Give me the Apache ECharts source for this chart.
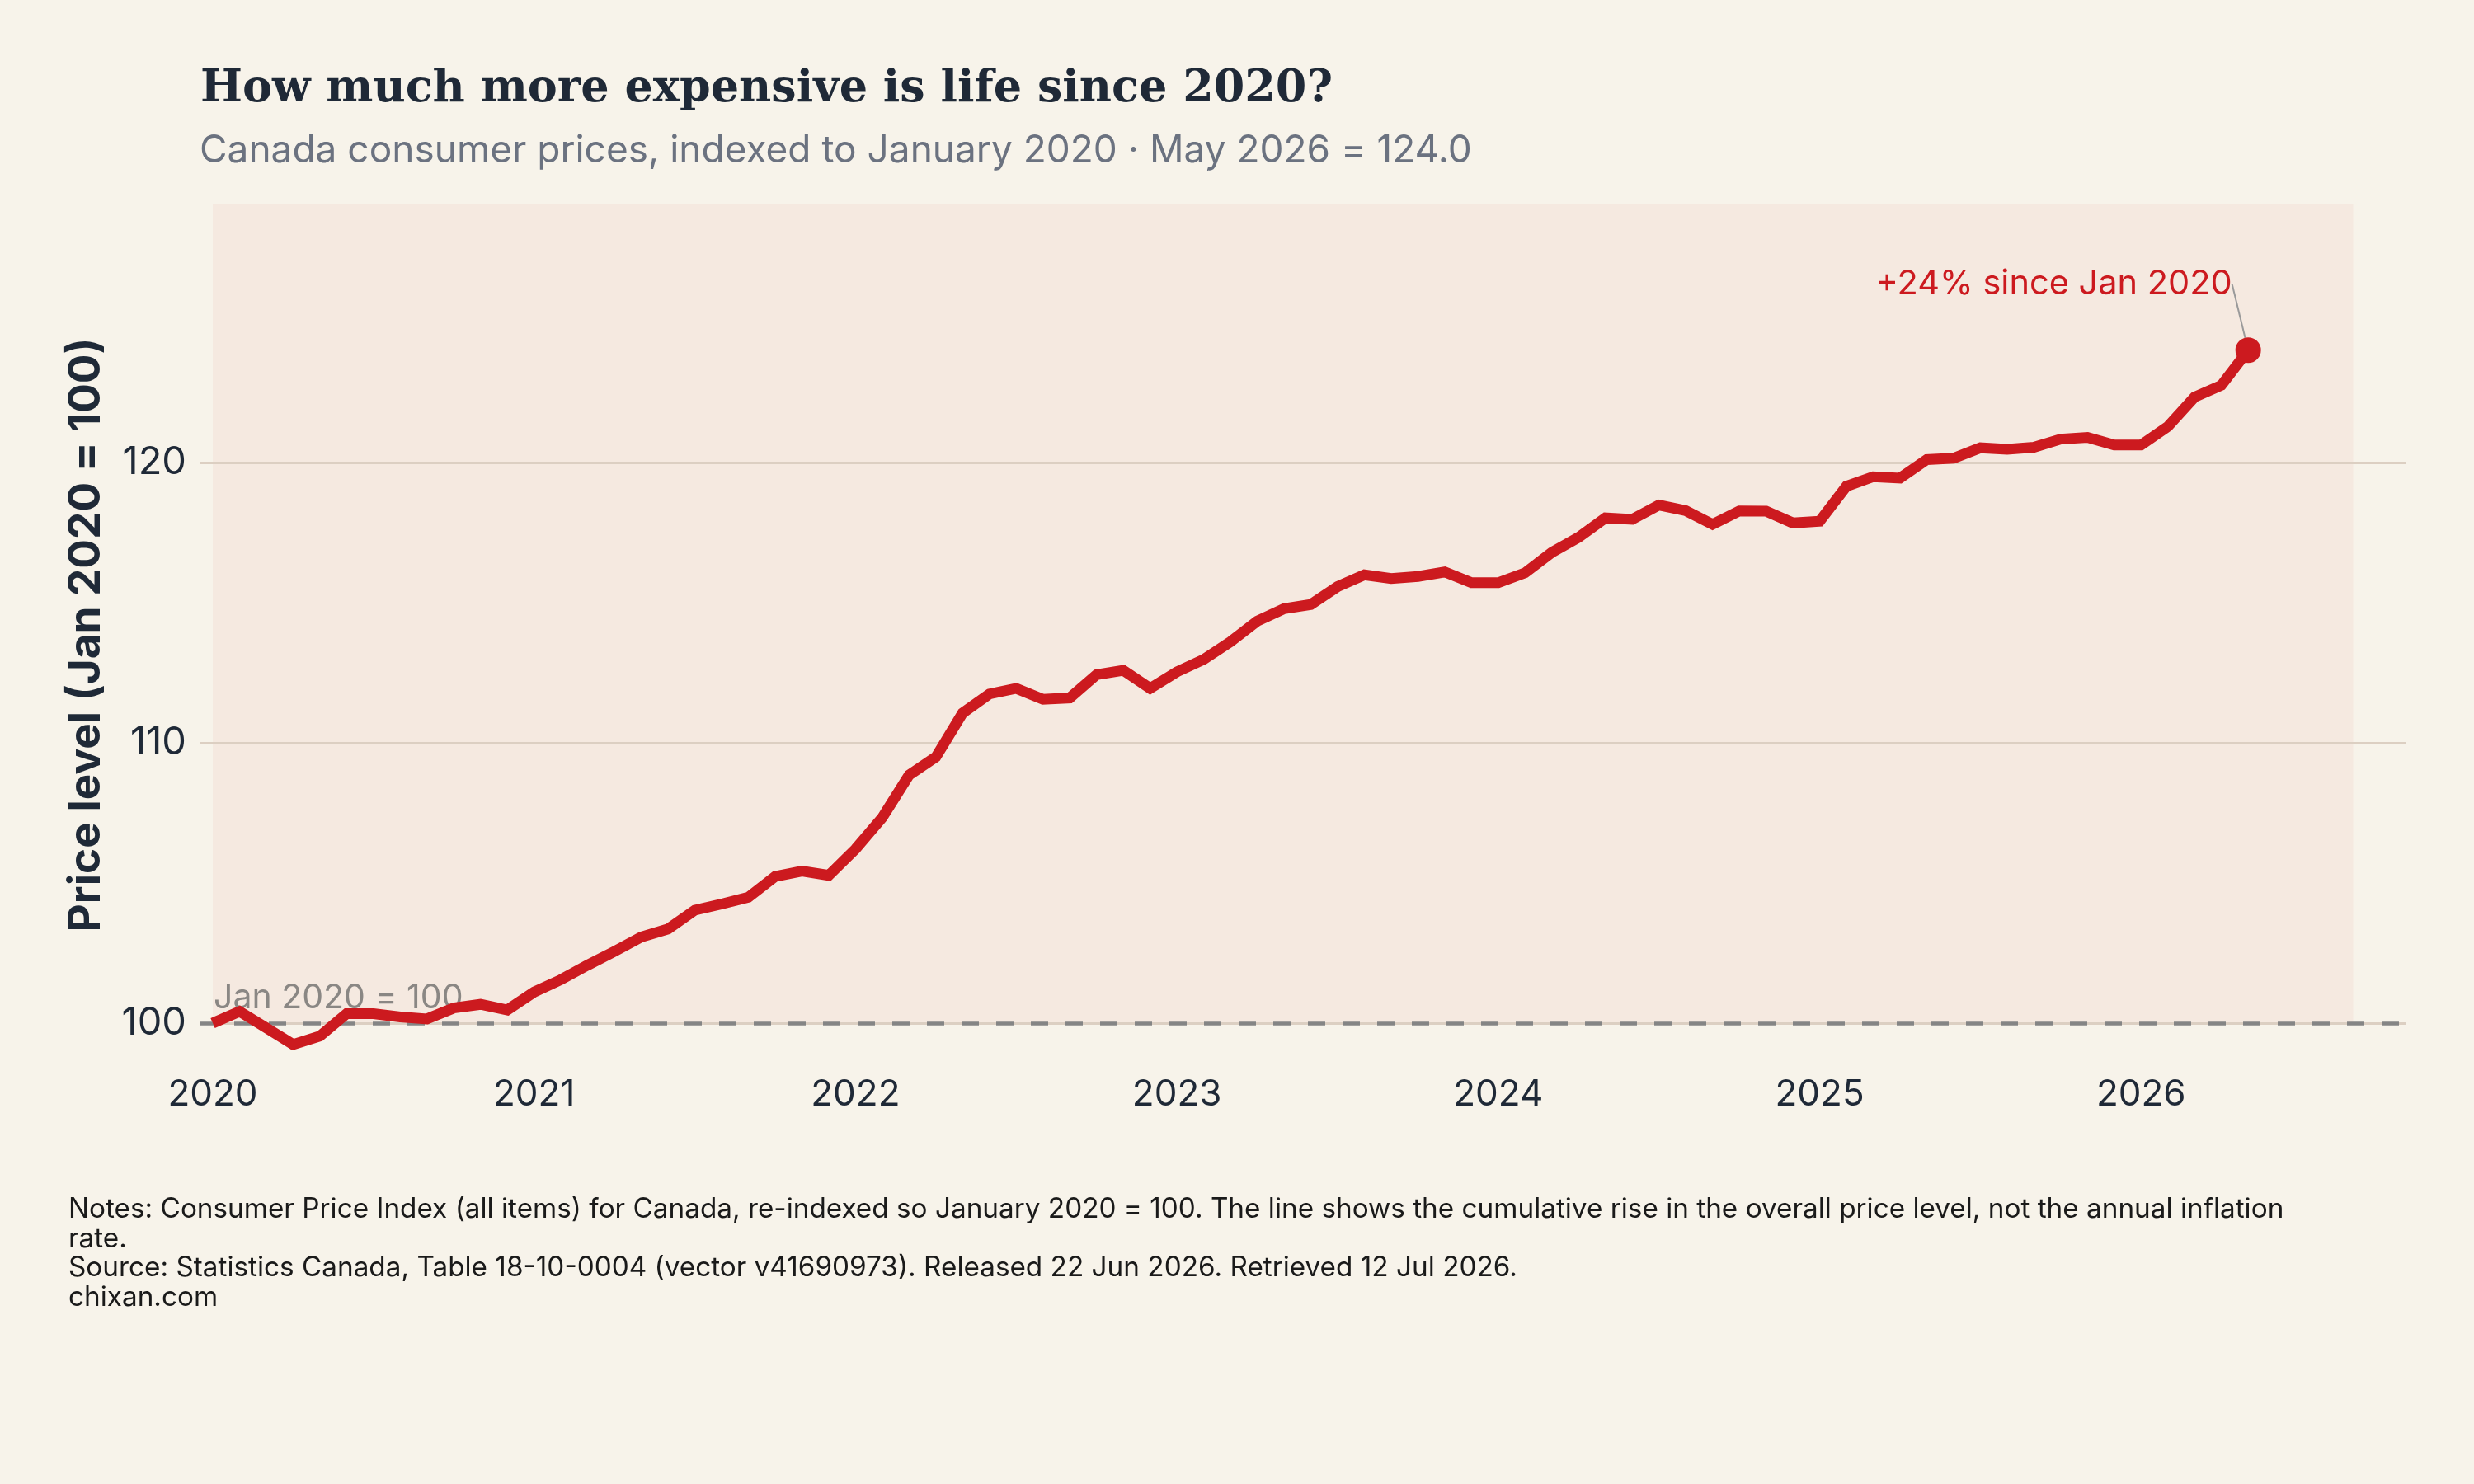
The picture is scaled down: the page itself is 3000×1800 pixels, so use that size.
<!DOCTYPE html>
<html>
<head>
<meta charset="utf-8">
<title>Canada CPI since 2020</title>
<script src="https://cdn.jsdelivr.net/npm/echarts@6/dist/echarts.min.js"></script>
<style>
  html, body { margin: 0; padding: 0; background: #f7f3ea; }
  #main { width: 3000px; height: 1800px; }
</style>
</head>
<body>
<div id="main"></div>
<script>
// x is decimal year (Jan 2020 = 2020.0), one point per month
var startYear = 2020;
var yearTicks = [2020, 2021, 2022, 2023, 2024, 2025, 2026];
var priceTicks = [100, 110, 120];

// CPI re-indexed to Jan 2020 = 100, one row per year
var cpi2020 = [100.0, 100.42, 99.83, 99.24, 99.54, 100.34, 100.34, 100.22, 100.15, 100.54, 100.67, 100.47];
var cpi2021 = [101.11, 101.55, 102.07, 102.56, 103.07, 103.36, 104.03, 104.25, 104.49, 105.23, 105.42, 105.27];
var cpi2022 = [106.21, 107.33, 108.85, 109.49, 111.06, 111.74, 111.94, 111.55, 111.60, 112.43, 112.58, 111.94];
var cpi2023 = [112.53, 112.97, 113.6, 114.34, 114.78, 114.93, 115.57, 115.99, 115.86, 115.93, 116.09, 115.71];
var cpi2024 = [115.71, 116.06, 116.79, 117.33, 118.02, 117.97, 118.48, 118.28, 117.79, 118.27, 118.26, 117.84];
var cpi2025 = [117.90, 119.15, 119.49, 119.44, 120.10, 120.15, 120.52, 120.47, 120.54, 120.83, 120.89, 120.62];
var cpi2026 = [120.62, 121.28, 122.33, 122.75, 124.0];

var cpi = [].concat(cpi2020, cpi2021, cpi2022, cpi2023, cpi2024, cpi2025, cpi2026);
var points = cpi.map(function (v, i) { return [startYear + i / 12, v]; });
var last = points[points.length - 1];

var RED = '#cc1a1f';
var INK = '#1f2937';
var SANS = 'Inter, "Noto Sans", sans-serif';

var chart = echarts.init(document.getElementById('main'));

var option = {
    backgroundColor: '#f7f3ea',
    animation: false,
    title: [{
        text: 'How much more expensive is life since 2020?',
        left: 238,
        top: 77,
        textStyle: {
            fontFamily: '"DejaVu Serif", serif',
            fontWeight: 'bold',
            fontSize: 54,
            color: INK
        }
    }, {
        text: 'Canada consumer prices, indexed to January 2020 \u00b7 May 2026 = 124.0',
        left: 237,
        top: 155,
        textStyle: {
            fontFamily: SANS,
            fontWeight: 'normal',
            fontSize: 46,
            color: '#6b7280'
        }
    }],
    grid: {
        left: 242,
        right: 83,
        top: 248,
        bottom: 508
    },
    xAxis: {
        type: 'value',
        min: 2019.959,
        max: 2026.823,
        z: 1,
        axisLine: { show: false },
        axisTick: { show: false, customValues: yearTicks },
        splitLine: { show: false },
        axisLabel: {
            customValues: yearTicks,
            formatter: function (v) { return String(Math.round(v)); },
            fontFamily: SANS,
            fontSize: 44,
            color: INK,
            margin: 14
        }
    },
    yAxis: {
        type: 'value',
        min: 98.5,
        max: 129.2,
        z: 1,
        name: 'Price level (Jan 2020 = 100)',
        nameLocation: 'middle',
        nameGap: 110,
        nameTextStyle: {
            fontFamily: SANS,
            fontWeight: 'bold',
            fontSize: 53,
            color: INK
        },
        axisLine: { show: false },
        axisTick: { show: false, customValues: priceTicks },
        axisLabel: {
            customValues: priceTicks,
            fontFamily: SANS,
            fontSize: 47,
            color: INK,
            margin: 16
        },
        splitLine: {
            show: true,
            lineStyle: { color: '#dccfc2', width: 3 }
        }
    },
    series: [{
        // shaded panel + baseline
        name: 'panel',
        type: 'line',
        data: [],
        z: 0,
        silent: true,
        markArea: {
            z: 0,
            silent: true,
            itemStyle: { color: '#f5e9e0' },
            data: [[{ xAxis: startYear, yAxis: 100 }, { xAxis: 2026.66, yAxis: 'max' }]]
        },
        markLine: {
            z: 1.5,
            silent: true,
            symbol: 'none',
            lineStyle: { color: '#858585', width: 4.5, type: [21, 21] },
            label: {
                show: true,
                position: 'insideStartTop',
                distance: [17, 10],
                formatter: 'Jan 2020 = 100',
                fontFamily: SANS,
                fontSize: 41,
                color: '#8a8784'
            },
            data: [{ yAxis: 100 }]
        }
    }, {
        name: 'CPI',
        type: 'line',
        data: points,
        z: 2,
        showSymbol: false,
        lineStyle: { color: RED, width: 13, join: 'miter' },
        itemStyle: { color: RED }
    }, {
        name: 'latest',
        type: 'scatter',
        z: 3,
        data: [last],
        symbolSize: 31,
        itemStyle: { color: RED, opacity: 1 },
        label: {
            show: true,
            position: 'left',
            distance: 4,
            formatter: '+' + Math.round(last[1] - 100) + '% since Jan 2020',
            fontFamily: SANS,
            fontSize: 41.5,
            color: RED
        },
        labelLayout: { dy: -80 },
        labelLine: {
            show: true,
            lineStyle: { color: '#9a9a9a', width: 2 }
        }
    }],
    graphic: [{
        type: 'text',
        left: 83,
        top: 1449,
        style: {
            text: 'Notes: Consumer Price Index (all items) for Canada, re-indexed so January 2020 = 100. The line shows the cumulative rise in the overall price level, not the annual inflation\nrate.\nSource: Statistics Canada, Table 18-10-0004 (vector v41690973). Released 22 Jun 2026. Retrieved 12 Jul 2026.\nchixan.com',
            font: '33.3px Inter',
            lineHeight: 35.7,
            fill: '#1a1a1a'
        }
    }]
};

chart.setOption(option);
</script>
</body>
</html>
